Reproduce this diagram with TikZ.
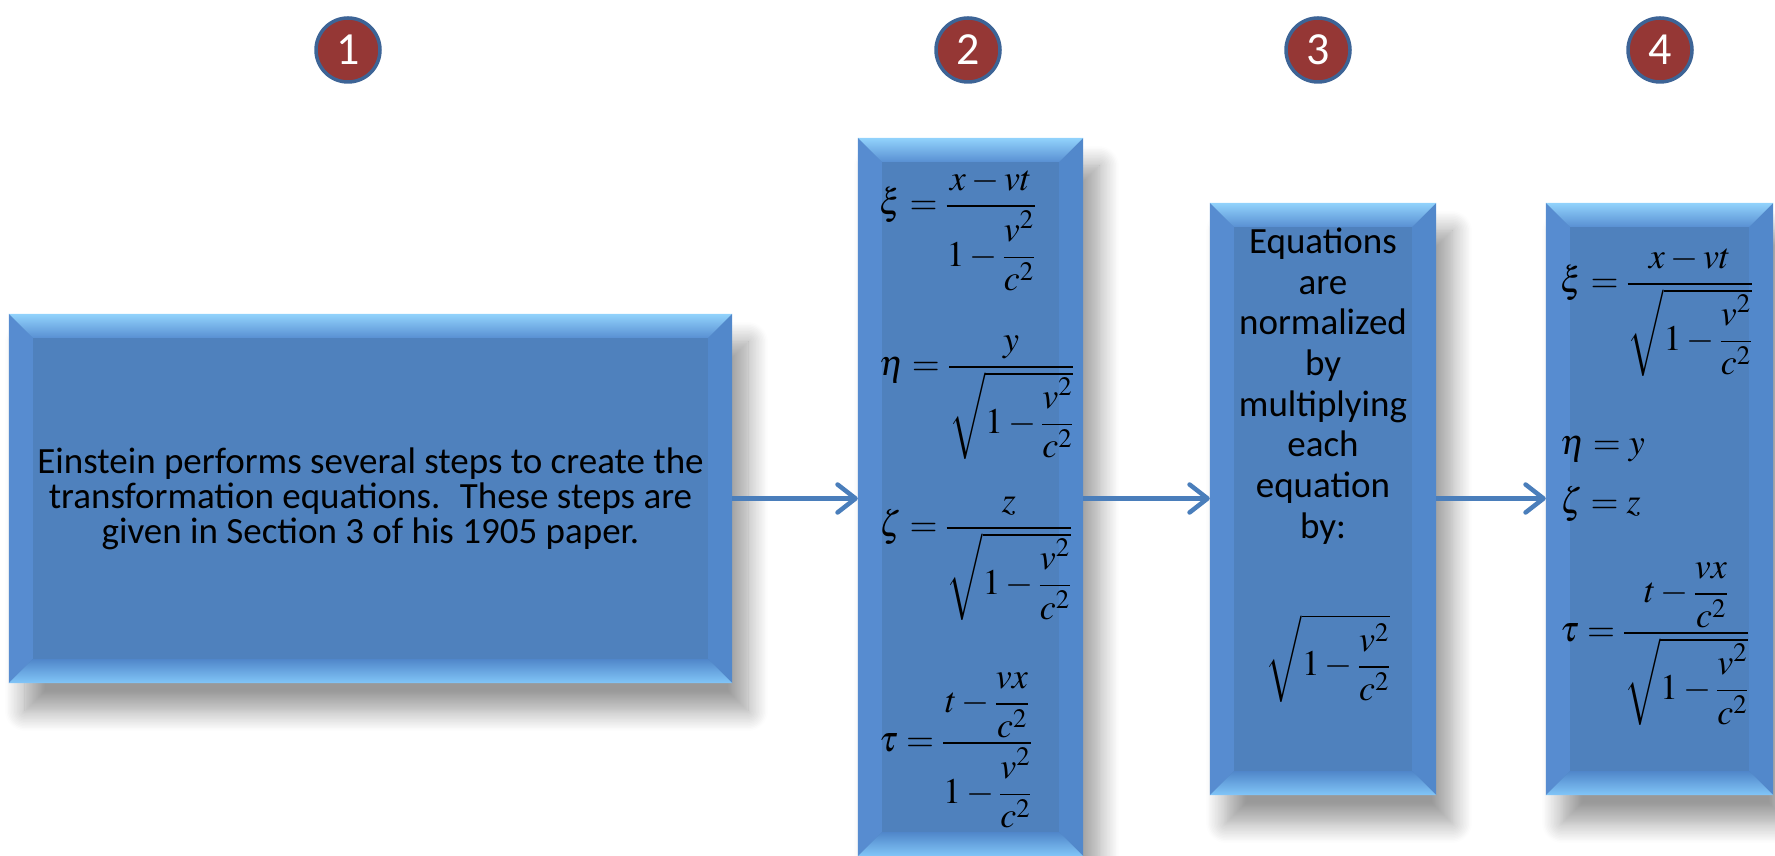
\documentclass[tikz,border=0pt]{standalone}
\usepackage{amsmath}
\usepackage{mathptmx}
\usepackage[no-math]{fontspec}
\setmainfont{Carlito}
\usetikzlibrary{calc,arrows.meta,shadows.blur}
\definecolor{boxblue}{HTML}{4F81BD}
\definecolor{bevtop}{HTML}{92D3FC}
\definecolor{bevtopin}{HTML}{5990D3}
\definecolor{bevbot}{HTML}{82C6F8}
\definecolor{bevbotin}{HTML}{5087CA}
\definecolor{bevleft}{HTML}{578CD0}
\definecolor{bevright}{HTML}{5288CB}
\definecolor{numred}{HTML}{953735}
\definecolor{numblue}{HTML}{3D6496}
\definecolor{arrowblue}{HTML}{4A7EBB}
\tikzset{
  box/.style={fill=boxblue, inner sep=0pt,
    blur shadow={shadow xshift=16pt, shadow yshift=-28pt, shadow blur radius=20pt, shadow opacity=40, shadow blur steps=14}},
  num/.style={circle, fill=numred, draw=numblue, line width=3.5pt, minimum size=64pt, inner sep=0pt,
    text=white, font=\fontsize{46}{46}\selectfont},
  flow/.style={draw=arrowblue, line width=4.5pt, -{Straight Barb[length=18pt,width=28pt,round]}},
  eq/.style={anchor=base west, inner sep=0pt, font=\fontsize{36}{42}\selectfont},
  btext/.style={align=center, inner sep=0pt, text=black},
}
\newcommand\bevelbox[1]{%
  \fill[bevleft] (#1.north west) -- ($(#1.north west)+(24pt,-24pt)$) -- ($(#1.south west)+(24pt,24pt)$) -- (#1.south west) -- cycle;
  \fill[bevright] (#1.north east) -- ($(#1.north east)+(-24pt,-24pt)$) -- ($(#1.south east)+(-24pt,24pt)$) -- (#1.south east) -- cycle;
  \shade[top color=bevtop, bottom color=bevtopin] (#1.north west) -- (#1.north east) -- ($(#1.north east)+(-24pt,-24pt)$) -- ($(#1.north west)+(24pt,-24pt)$) -- cycle;
  \shade[top color=bevbotin, bottom color=bevbot] (#1.south west) -- (#1.south east) -- ($(#1.south east)+(-24pt,24pt)$) -- ($(#1.south west)+(24pt,24pt)$) -- cycle;
}
\begin{document}
\begin{tikzpicture}[x=1pt,y=1pt]
\useasboundingbox (0,0) rectangle (1775,856);
% number circles
\node[num] (c1) at (348,806) {1};
\node[num] (c2) at (968,806) {2};
\node[num] (c3) at (1318,806) {3};
\node[num] (c4) at (1660,806) {4};
% boxes
\node[box, minimum width=723pt, minimum height=369pt] (b1) at (370.5,357.5) {};
\node[box, minimum width=225pt, minimum height=718pt] (b2) at (970.5,359) {};
\node[box, minimum width=226pt, minimum height=592pt] (b3) at (1323,357) {};
\node[box, minimum width=227pt, minimum height=592pt] (b4) at (1659.5,357) {};
\bevelbox{b1}
\bevelbox{b2}
\bevelbox{b3}
\bevelbox{b4}
% texts
\node[btext, font=\fontsize{37}{35}\selectfont] (t1) at (b1.center) {Einstein performs several steps to create the\\transformation equations.~ These steps are\\given in Section 3 of his 1905 paper.};
\node[btext, font=\fontsize{37}{40.7}\selectfont] (t3) at (1323,470) {Equations\\are\\normalized\\by\\multiplying\\each\\equation\\by:};
% equations box 2
\node[eq] (e2a) at (879,641) {$\displaystyle \xi = \frac{x-vt}{1-\dfrac{v^2}{c^2}}$};
\node[eq] (e2b) at (879,480) {$\displaystyle \eta = \frac{y}{\sqrt{1-\dfrac{v^2}{c^2}}}$};
\node[eq] (e2c) at (879,319) {$\displaystyle \zeta = \frac{z}{\sqrt{1-\dfrac{v^2}{c^2}}}$};
\node[eq] (e2d) at (879,104) {$\displaystyle \tau = \frac{t-\dfrac{vx}{c^2}}{1-\dfrac{v^2}{c^2}}$};
% equation box 3
\node[eq, anchor=base] (e3) at (1328,180) {$\displaystyle \sqrt{1-\frac{v^2}{c^2}}$};
% equations box 4
\node[eq] (e4a) at (1560,563) {$\displaystyle \xi = \frac{x-vt}{\sqrt{1-\dfrac{v^2}{c^2}}}$};
\node[eq] (e4b) at (1560,401) {$\eta = y$};
\node[eq] (e4c) at (1560,342) {$\zeta = z$};
\node[eq] (e4d) at (1560,214) {$\displaystyle \tau = \frac{t-\dfrac{vx}{c^2}}{\rule{0pt}{44pt}\sqrt{1-\dfrac{v^2}{c^2}}}$};
% arrows
\draw[flow] (b1.east) -- (b1.east -| b2.west);
\draw[flow] (b2.east |- b1.east) -- (b1.east -| b3.west);
\draw[flow] (b3.east |- b1.east) -- (b1.east -| b4.west);
\end{tikzpicture}
\end{document}
